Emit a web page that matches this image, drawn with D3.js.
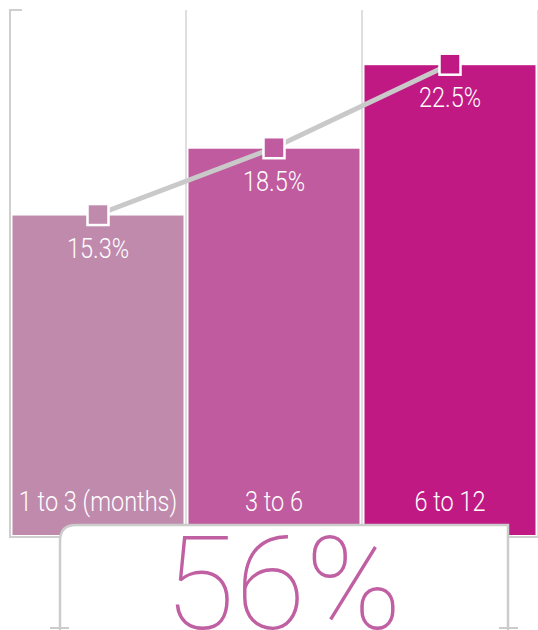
<!DOCTYPE html>
<html>
<head>
<meta charset="utf-8">
<script src="https://cdn.jsdelivr.net/npm/d3@7"></script>
<style>
  body { margin:0; background:#fff; }
  svg text { font-family: Roboto, "Liberation Sans Narrow", sans-serif; }
</style>
</head>
<body>
<div id="chart"></div>
<script>
//data
var categories = ["1 to 3 (months)", "3 to 6", "6 to 12"];
var values = [15.3, 18.5, 22.5];
var barColors = ["#c08aad", "#bf5b9e", "#c01984"];
var totalLabel = "56%";

var W = 538, H = 630;
var svg = d3.select("#chart").append("svg")
  .attr("width", W)
  .attr("height", H);

var x = d3.scaleBand().domain(categories).range([10, 538]).padding(0);
var y = d3.scaleLinear().domain([0, 25]).range([535, 13]);
var bw = x.bandwidth();

//frame + grid
svg.append("path")
  .attr("d", "M22,10H10V537H538")
  .style("fill", "none").style("stroke", "#cfcfcf").style("stroke-width", 2);
svg.selectAll(".grid").data(categories).enter().append("line")
  .attr("class", "grid")
  .attr("x1", function(d){ return x(d)+bw; })
  .attr("x2", function(d){ return x(d)+bw; })
  .attr("y1", 10).attr("y2", 537)
  .style("stroke", "#d4d4d4").style("stroke-width", 1.5);

//bars
svg.selectAll(".bar").data(values).enter().append("rect")
  .attr("class", "bar")
  .attr("x", function(d,i){ return x(categories[i])+2.5; })
  .attr("y", function(d){ return y(d); })
  .attr("width", bw-5)
  .attr("height", function(d){ return y(0)-y(d); })
  .style("fill", function(d,i){ return barColors[i]; });

//value labels
svg.selectAll(".vlab").data(values).enter().append("text")
  .attr("class", "vlab")
  .attr("transform", function(d,i){ return "translate("+(x(categories[i])+bw/2)+","+(y(d)+42)+") scale(0.84,1)"; })
  .attr("text-anchor", "middle")
  .style("font-size", "28px").style("font-weight", 300).style("fill", "#fff")
  .text(function(d){ return d.toFixed(1)+"%"; });

//category labels
svg.selectAll(".clab").data(categories).enter().append("text")
  .attr("class", "clab")
  .attr("transform", function(d){ return "translate("+(x(d)+bw/2)+",511) scale(0.84,1)"; })
  .attr("text-anchor", "middle")
  .style("font-size", "28px").style("font-weight", 300).style("fill", "#fff")
  .text(function(d){ return d; });

//trend line
var line = d3.line()
  .x(function(d,i){ return x(categories[i])+bw/2; })
  .y(function(d){ return y(d)-1; });
svg.append("path").datum(values)
  .attr("d", line)
  .style("fill", "none").style("stroke", "#c9c9c9").style("stroke-width", 5);

svg.selectAll(".mark").data(values).enter().append("rect")
  .attr("class", "mark")
  .attr("x", function(d,i){ return x(categories[i])+bw/2-10.5; })
  .attr("y", function(d){ return y(d)-11.5; })
  .attr("width", 21).attr("height", 21)
  .style("fill", function(d,i){ return barColors[i]; })
  .style("stroke", "#fff").style("stroke-width", 2.5);

//total box
svg.append("path")
  .attr("d", "M60,640V541Q60,525 76,525H508V640")
  .style("fill", "#fff").style("stroke", "#cccccc").style("stroke-width", 2.5);
svg.append("line").attr("x1", 50).attr("x2", 69).attr("y1", 628).attr("y2", 628)
  .style("stroke", "#cccccc").style("stroke-width", 2);
svg.append("line").attr("x1", 499).attr("x2", 518).attr("y1", 628).attr("y2", 628)
  .style("stroke", "#cccccc").style("stroke-width", 2);

svg.append("text")
  .attr("transform", "translate(283,629)")
  .attr("text-anchor", "middle")
  .style("font-size", "129px").style("font-weight", 100).style("fill", "#c060a3")
  .text(totalLabel);
</script>
</body>
</html>
